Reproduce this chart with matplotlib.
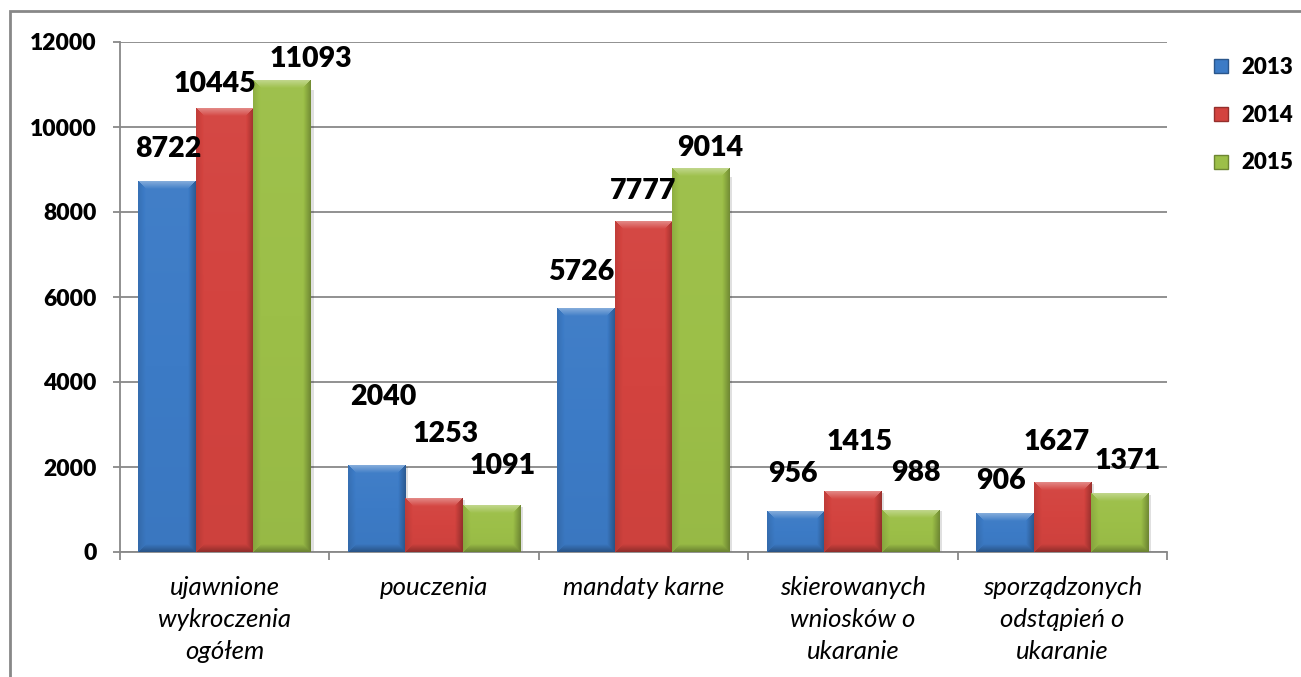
import numpy as np
import matplotlib
matplotlib.use('Agg')
import matplotlib.pyplot as plt
from matplotlib.colors import to_rgb
from matplotlib.lines import Line2D
from matplotlib.patches import Rectangle

# data
categories = ['ujawnione\nwykroczenia\nogółem', 'pouczenia', 'mandaty karne',
              'skierowanych\nwniosków o\nukaranie', 'sporządzonych\nodstąpień o\nukaranie']
years = ['2013', '2014', '2015']
v2013 = [8722, 2040, 5726, 956, 906]
v2014 = [10445, 1253, 7777, 1415, 1627]
v2015 = [11093, 1091, 9014, 988, 1371]
y_ticks = [0, 2000, 4000, 6000, 8000, 10000, 12000]

# styles
colors = ['#3c7bc6', '#d3433f', '#9cbf48']
# data label offsets in pixels (dx, dy above bar top), per series, per category
lab_dx = [[1, 7, -5, -2, -4], [-10, 12, 0, 7, -6], [29, 11, 9, 5, 8]]
lab_dy = [[32, 68, 37, 37, 32], [24, 65, 30, 50, 41], [22, 40, 21, 37, 33]]

W, H = 1301, 677
fig = plt.figure(figsize=(W / 100, H / 100), dpi=100)
ax = fig.add_axes([120 / W, 1 - 552 / H, (1167 - 120) / W, (552 - 42) / H])

series = [v2013, v2014, v2015]
n = len(categories)
x = np.arange(n)
bw = 0.275

ax.set_xlim(-0.5, n - 0.5)
ax.set_ylim(0, 12000)


def shade(c, a):
    c = np.array(c)
    if a >= 0:
        return c + (1 - c) * a
    return c * (1 + a)


def bevel(color, w, h, b=8):
    c = np.array(to_rgb(color))
    X, Y = np.meshgrid(np.arange(w) + 0.5, np.arange(h) + 0.5)
    d = np.stack([X, w - X, Y, h - Y])  # left, right, top, bottom
    edge = d.argmin(axis=0)
    dist = d.min(axis=0)
    amt = np.array([-0.12, -0.3, 0.35, -0.3])
    ramp = np.clip(1 - dist / b, 0, 1)
    a = amt[edge] * ramp
    # slight vertical gradient on the face
    a = a + 0.06 * (1 - Y / h) - 0.03
    img = np.empty((h, w, 3))
    for k in range(3):
        img[..., k] = np.where(a >= 0, c[k] + (1 - c[k]) * a, c[k] * (1 + a))
    return np.clip(img, 0, 1)


for i, vals in enumerate(series):
    bars = ax.bar(x + (i - 1) * bw, vals, bw, color=colors[i], zorder=3, label=years[i])
    for j, p in enumerate(bars):
        x0, y0 = p.get_x(), p.get_y()
        x1, y1 = x0 + p.get_width(), y0 + p.get_height()
        (px0, py0), (px1, py1) = ax.transData.transform([(x0, y0), (x1, y1)])
        pw, ph = max(int(round(px1 - px0)), 2), max(int(round(py1 - py0)), 2)
        ax.imshow(bevel(colors[i], pw, ph), extent=(x0, x1, y0, y1), origin='upper',
                  aspect='auto', zorder=4, interpolation='bilinear')
        # soft shadow on the right
        ax.add_patch(Rectangle((x1, y0), 0.012, p.get_height() * 0.98, color='#000000',
                               alpha=0.12, lw=0, zorder=2))
        ax.annotate(str(vals[j]), (p.get_x() + p.get_width() / 2, y1),
                    xytext=(lab_dx[i][j], lab_dy[i][j]), textcoords='offset pixels',
                    ha='center', va='center', fontsize=20.5, fontweight='heavy',
                    family='Lato', color='black', zorder=6)

ax.set_xlim(-0.5, n - 0.5)
ax.set_ylim(0, 12000)

# axes styling
for s in ['top', 'right']:
    ax.spines[s].set_visible(False)
for s in ['left', 'bottom']:
    ax.spines[s].set_color('#888888')
    ax.spines[s].set_linewidth(1.3)
ax.set_yticks(y_ticks)
ax.set_yticklabels([str(t) for t in y_ticks], fontsize=16.5, fontweight='heavy', family='Lato')
ax.yaxis.grid(True, color='#888888', linewidth=1.3, zorder=0)
ax.set_axisbelow(True)
ax.tick_params(axis='y', length=5, color='#888888', width=1.3, pad=12)

ax.set_xticks(np.arange(n + 1) - 0.5)
ax.set_xticklabels([])
ax.tick_params(axis='x', which='major', length=6, color='#888888', width=1.3)
ax.set_xticks(x, minor=True)
ax.set_xticklabels(categories, minor=True, fontsize=18.5, style='italic', family='Lato',
                   linespacing=1.48)
ax.tick_params(axis='x', which='minor', length=0, pad=17)

# legend
handles = [Line2D([], [], linestyle='none', marker='s', markersize=10,
                  markerfacecolor=colors[i], markeredgecolor=shade(to_rgb(colors[i]), -0.3))
           for i in range(3)]
fig.legend(handles, years, loc='upper left', bbox_to_anchor=(1190 / W, 1 - 37 / H),
           frameon=False, labelspacing=1.2, handlelength=1.0, handletextpad=0.4,
           prop={'family': 'Lato', 'weight': 'heavy', 'size': 16})

# outer chart border (cropped on the right and bottom)
fig.patches.append(Rectangle((10 / W, -0.1), 1.2, 1 - 11 / H + 0.1, transform=fig.transFigure,
                             fill=False, edgecolor='#888888', linewidth=2, figure=fig))

fig.savefig('out.png', dpi=100)
